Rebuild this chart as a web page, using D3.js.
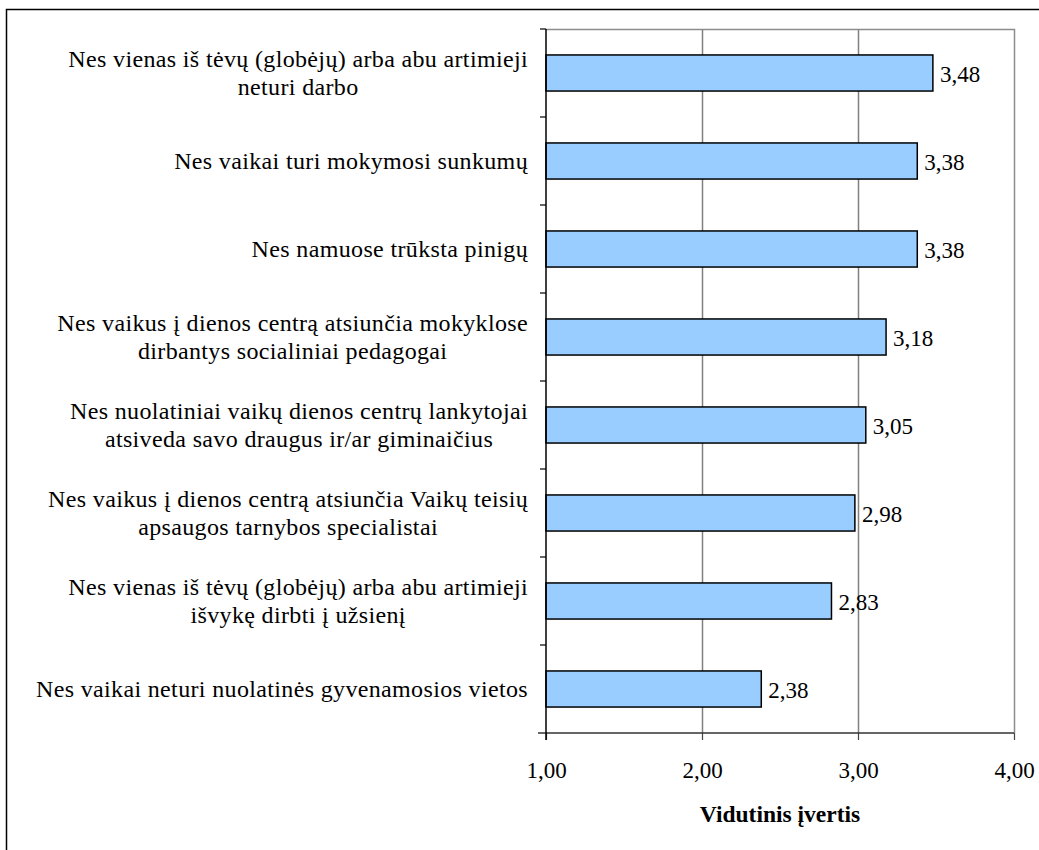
<!DOCTYPE html>
<html><head><meta charset="utf-8">
<script src="https://cdn.jsdelivr.net/npm/d3@7"></script>
<style>body{margin:0;background:#fff}svg{display:block}</style>
</head><body><svg id="c" width="1039" height="850" font-family="'Liberation Serif', 'DejaVu Serif', serif"></svg>
<script>
const categories = [
  ["Nes vienas iš tėvų (globėjų) arba abu artimieji","neturi darbo"],
  ["Nes vaikai turi mokymosi sunkumų"],
  ["Nes namuose trūksta pinigų"],
  ["Nes vaikus į dienos centrą atsiunčia mokyklose","dirbantys socialiniai pedagogai"],
  ["Nes nuolatiniai vaikų dienos centrų lankytojai","atsiveda savo draugus ir/ar giminaičius"],
  ["Nes vaikus į dienos centrą atsiunčia Vaikų teisių","apsaugos tarnybos specialistai"],
  ["Nes vienas iš tėvų (globėjų) arba abu artimieji","išvykę dirbti į užsienį"],
  ["Nes vaikai neturi nuolatinės gyvenamosios vietos"]
];
const values = [3.48, 3.38, 3.38, 3.18, 3.05, 2.98, 2.83, 2.38];
const xTicks = [1, 2, 3, 4];
const axisTitle = "Vidutinis įvertis";

const FONT = "'Liberation Serif', 'DejaVu Serif', serif";
const svg = d3.select("#c");
const L = 546, R = 1014, T = 29, B = 733;
const fmt = v => d3.format(".2f")(v).replace(".", ",");

svg.append("rect").attr("x",6.5).attr("y",9.5).attr("width",1100).attr("height",1000)
  .attr("fill","none").attr("stroke","#000").attr("stroke-width",1.5);

const x = d3.scaleLinear().domain([1,4]).range([L,R]);
const y = d3.scaleBand().domain(d3.range(categories.length)).range([T,B]).paddingInner(0.59).paddingOuter(0.295);
const yb = d3.scaleBand().domain(d3.range(categories.length)).range([T,B]);

svg.append("g").selectAll("line").data(xTicks.slice(1,3)).join("line")
  .attr("x1",d=>Math.round(x(d))+0.5).attr("x2",d=>Math.round(x(d))+0.5).attr("y1",T).attr("y2",B)
  .attr("stroke","#808080").attr("stroke-width",1.5);
svg.append("path").attr("d",`M${L},${T+0.5}H${R+0.5}V${B}`).attr("fill","none").attr("stroke","#8c8c8c").attr("stroke-width",1.5);

svg.append("g").selectAll("rect").data(values).join("rect")
  .attr("x",x(1)).attr("y",(d,i)=>y(i)).attr("width",d=>x(d)-x(1)).attr("height",y.bandwidth())
  .attr("fill","#99ccff").attr("stroke","#000").attr("stroke-width",1.5);

svg.append("g").selectAll("text").data(values).join("text")
  .attr("font-family",FONT)
  .attr("x",d=>x(d)+7).attr("y",(d,i)=>y(i)+y.bandwidth()/2+9)
  .attr("font-size",23).text(d=>fmt(d));

const xa = svg.append("g").attr("transform",`translate(0,${B})`)
  .call(d3.axisBottom(x).tickValues(xTicks).tickSize(7).tickPadding(0).tickFormat(fmt));
xa.attr("font-family",FONT).attr("font-size",23);
xa.select(".domain").remove();
xa.append("line").attr("x1",L-8).attr("x2",R).attr("stroke","#333").attr("stroke-width",1.5);
xa.selectAll(".tick line").attr("stroke","#444").attr("stroke-width",1.2);
xa.selectAll(".tick text").attr("fill","#000").attr("dy",null).attr("y",45);

svg.append("line").attr("x1",L).attr("x2",L).attr("y1",T).attr("y2",B+7).attr("stroke","#000").attr("stroke-width",1.5);
svg.append("g").selectAll("line").data(d3.range(categories.length)).join("line")
  .attr("x1",L-6).attr("x2",L).attr("y1",d=>yb(d)).attr("y2",d=>yb(d)).attr("stroke","#000").attr("stroke-width",1.2);

const lineH = 28, labelRight = 528;
categories.forEach((lines,i)=>{
  const cy = yb(i)+yb.bandwidth()/2 + 8;
  const g = svg.append("g");
  const texts = lines.map((s,k)=>g.append("text").attr("font-family",FONT).attr("font-size",24)
    .attr("letter-spacing","0.35px").attr("text-anchor","middle")
    .attr("y",cy+(k-(lines.length-1)/2)*lineH).text(s));
  const w = d3.max(texts,t=>t.node().getComputedTextLength());
  texts.forEach(t=>t.attr("x",labelRight-w/2));
});

svg.append("text").attr("font-family",FONT).attr("x",(L+R)/2).attr("y",822).attr("text-anchor","middle")
  .attr("font-size",23.5).attr("font-weight","bold").text(axisTitle);
</script></body></html>
